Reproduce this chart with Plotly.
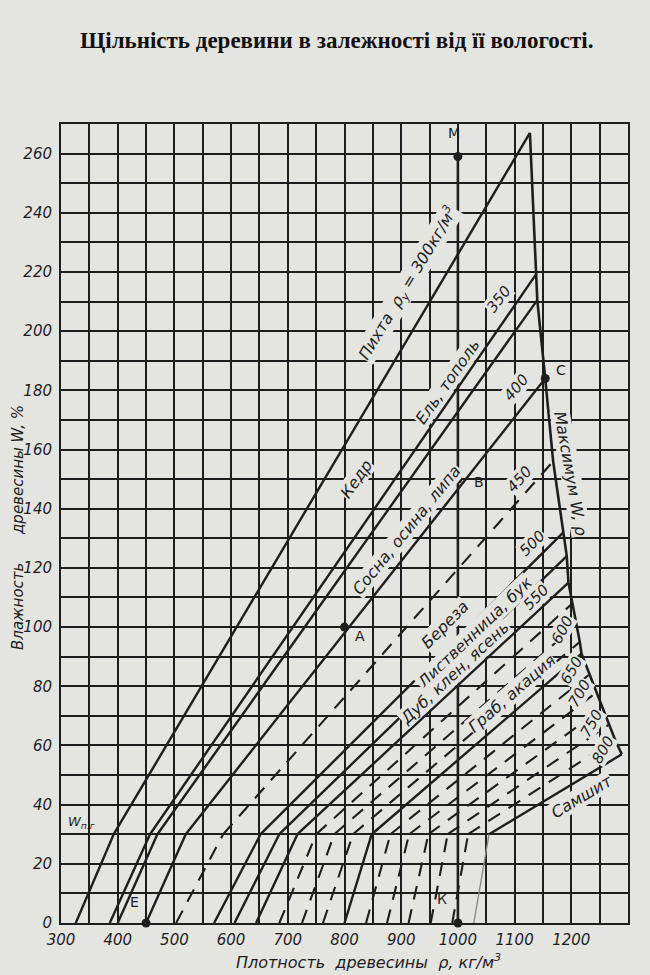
import plotly.graph_objects as go

# ---------------- data ----------------
rho_y = [300, 350, 360, 400, 450, 500, 525, 550, 575, 600, 625, 650, 675, 700, 725, 750, 775, 800]
rho_w0 = [326, 386, 400, 450, 503, 570, 606, 644, 685, 725, 762, 800, 838, 875, 913, 952, 990, 1028]
rho_w30 = [393, 457, 470, 520, 586, 652, 685, 717, 750, 782, 815, 848, 881, 914, 948, 982, 1018, 1055]
rho_top = [1127, 1139, 1140, 1154, 1168, 1186, 1192, 1195, 1202, 1210, 1215, 1218, 1232, 1245, 1255, 1266, 1277, 1289]
w_top = [267, 219.5, 210.5, 184, 156, 132, 124, 115, 108, 101, 95, 91, 84, 78, 72.5, 67, 62, 57]
w_fsp = 30  # fibre saturation point, %

point_names = ["М", "А", "В", "С", "Е", "К"]
point_rho = [1000, 800, 1000, 1154, 450, 1000]
point_w = [259, 100, 150, 184, 0, 0]

x_ticks = [300, 400, 500, 600, 700, 800, 900, 1000, 1100, 1200]
y_ticks = [0, 20, 40, 60, 80, 100, 120, 140, 160, 180, 200, 220, 240, 260]

species = ["Пихта  ρ<sub>у</sub> = 300кг/м<sup>3</sup>", "Кедр", "Ель, тополь",
           "Сосна, осина, липа", "Береза", "Лиственница, бук",
           "Дуб, клен, ясень", "Граб, акация", "Самшит"]
value_labels = ["350", "400", "450", "500", "550", "600", "650", "700", "750", "800"]

# ---------------- styles ----------------
DASHED = {450, 575, 600, 625, 675, 700, 725, 750, 775}
FAINT_LOW = {800}
INK = "#1e1e1e"
PAPER = "#e4e4e1"
HAND = "DejaVu Sans, Liberation Sans, sans-serif"

fig = go.Figure()

def line_style(ry, low=False):
    if low and ry in FAINT_LOW:
        return dict(color="#8a8a88", width=1.4)
    if ry in DASHED:
        return dict(color=INK, width=2.1, dash="14px,10px")
    return dict(color=INK, width=2.4)

# density lines: W=0 -> W=30 (shrinkage part), W=30 -> max moisture
for i, ry in enumerate(rho_y):
    fig.add_trace(go.Scatter(x=[rho_w0[i], rho_w30[i]], y=[0, w_fsp], mode="lines",
                             line=line_style(ry, low=True), hoverinfo="skip", showlegend=False))
    fig.add_trace(go.Scatter(x=[rho_w30[i], rho_top[i]], y=[w_fsp, w_top[i]], mode="lines",
                             line=line_style(ry), hoverinfo="skip", showlegend=False))

# maximum moisture curve
fig.add_trace(go.Scatter(x=rho_top, y=w_top, mode="lines",
                         line=dict(color=INK, width=2.6),
                         hoverinfo="skip", showlegend=False))

# example line M-K
fig.add_trace(go.Scatter(x=[point_rho[0], point_rho[5]], y=[point_w[0], point_w[5]],
                         mode="lines", line=dict(color=INK, width=2.6),
                         hoverinfo="skip", showlegend=False))

# points
fig.add_trace(go.Scatter(x=point_rho, y=point_w, mode="markers",
                         marker=dict(color=INK, size=9),
                         cliponaxis=False, hoverinfo="skip", showlegend=False))

ann = []
def lab(text, x, y, ang, size=16, style="italic"):
    ann.append(dict(text=text, x=x, y=y, xref="x", yref="y", showarrow=False,
                    textangle=ang, font=dict(family=HAND, size=size, color=INK, style=style),
                    bgcolor=PAPER, borderpad=0))

# species labels along the lines
sp_pos = [(912, 216), (820, 150), (982, 183), (910, 133), (977, 101),
          (1030, 98), (995, 84.5), (1095, 77.7), (1219, 42.6)]
sp_ang = [-59, -55, -55, -51, -45, -44, -43, -41, -31]
for t, (x, y), a in zip(species, sp_pos, sp_ang):
    lab(t, x, y, a)

val_pos = [(1072, 211), (1104, 181), (1109, 150), (1132, 128.4), (1139, 110),
           (1184, 99), (1201, 85.5), (1215, 77.7), (1236, 67.6), (1256, 58.4)]
val_ang = [-52, -50, -48, -45, -45, -62, -60, -60, -60, -60]
for t, (x, y), a in zip(value_labels, val_pos, val_ang):
    lab(t, x, y, a, size=15)

lab("Максимум W, ρ", 1199, 152, 80)
ann.append(dict(text="W<sub>п.г</sub>", x=337, y=34, xref="x", yref="y", showarrow=False,
                font=dict(family=HAND, size=13, color=INK, style="italic")))

# point letters
pl_pos = [(993, 267), (827, 97), (1037, 149), (1182, 187), (430, 7), (972, 8)]
for t, (x, y) in zip(point_names, pl_pos):
    ann.append(dict(text=t, x=x, y=y, xref="x", yref="y", showarrow=False,
                    font=dict(family=HAND, size=14, color=INK)))

# title and axis titles (positions given in page pixels, converted below)
ann.append(dict(text="<b>Щільність деревини в залежності від її вологості.</b>",
                x=336, y=40, showarrow=False,
                font=dict(family="Liberation Serif, Times New Roman, serif", size=23, color="#111")))
ann.append(dict(text="Плотность\u00a0\u00a0древесины\u00a0\u00a0ρ,\u00a0кг/м<sup>3</sup>", x=368, y=961,
                showarrow=False, font=dict(family=HAND, size=16, color=INK, style="italic")))
ann.append(dict(text="Влажность\u00a0\u00a0\u00a0\u00a0\u00a0\u00a0древесины W, %", x=18, y=528,
                showarrow=False, textangle=-90,
                font=dict(family=HAND, size=15, color=INK, style="italic")))

L, R, T, B = 61, 22, 124, 52
W, H = 650, 975
pw, ph = W - L - R, H - T - B
for a in ann[-3:]:
    px, py = a["x"], a["y"]
    a["xref"] = "paper"; a["yref"] = "paper"
    a["xanchor"] = "center"; a["yanchor"] = "middle"
    a["x"] = (px - L) / pw
    a["y"] = (H - B - py) / ph

fig.update_layout(
    width=W, height=H,
    margin=dict(l=L, r=R, t=T, b=B),
    paper_bgcolor=PAPER, plot_bgcolor=PAPER,
    annotations=ann,
    xaxis=dict(range=[300, 1300], tickvals=x_ticks, ticks="", showgrid=True,
               gridcolor=INK, gridwidth=2, zeroline=False, ticklabelstandoff=2,
               showline=True, linecolor=INK, linewidth=2, mirror=True,
               tickfont=dict(family=HAND, size=15, color=INK, style="italic"),
               minor=dict(dtick=50, tick0=300, showgrid=True, gridcolor=INK, gridwidth=2)),
    yaxis=dict(range=[0, 270], tickvals=y_ticks, ticks="", showgrid=True,
               gridcolor=INK, gridwidth=2, zeroline=False, ticklabelstandoff=4,
               showline=True, linecolor=INK, linewidth=2, mirror=True,
               tickfont=dict(family=HAND, size=15, color=INK, style="italic"),
               minor=dict(dtick=10, tick0=0, showgrid=True, gridcolor=INK, gridwidth=2)),
)

fig.write_html("out.html", config={"displayModeBar": False},
               post_script="document.body.style.margin='0';"
                           "document.body.style.background='" + PAPER + "';")
